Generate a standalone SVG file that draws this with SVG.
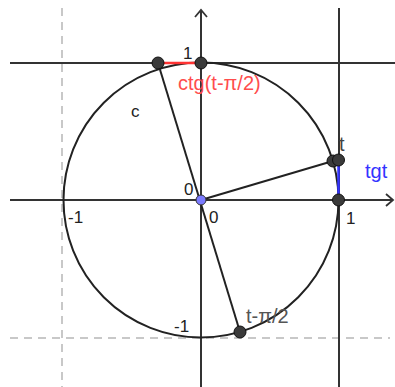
<svg xmlns="http://www.w3.org/2000/svg" width="395" height="387" viewBox="0 0 395 387">
<style>
.ax{stroke:#333;stroke-width:2;fill:none}
.dash{stroke:#c8c8c8;stroke-width:2;stroke-dasharray:8,6;fill:none}
.ln{stroke:#222;stroke-width:2;fill:none}
.pt{fill:#3a3a3a;stroke:#111;stroke-width:1}
text{font-family:"Liberation Sans",Arial,sans-serif;font-size:17px;fill:#222}
.big{font-size:20px}
</style>
<defs>
<marker id="arr" markerWidth="12" markerHeight="14" refX="9" refY="7" orient="auto" markerUnits="userSpaceOnUse">
<path d="M2,1 L9,7 L2,13" fill="none" stroke="#333" stroke-width="1.8"/>
</marker>
</defs>
<rect width="395" height="387" fill="#fff"/>
<g id="grid">
<line class="dash" x1="62" y1="8" x2="62" y2="387"/>
<line class="dash" x1="10" y1="338" x2="390" y2="338"/>
<line class="ax" x1="10" y1="63" x2="395" y2="63"/>
<line class="ax" x1="339" y1="8" x2="339" y2="387"/>
<line class="ax" x1="10" y1="200" x2="393" y2="200" marker-end="url(#arr)"/>
<line class="ax" x1="201" y1="387" x2="201" y2="10" marker-end="url(#arr)"/>
</g>
<g id="circle-c">
<circle cx="201" cy="200" r="137.5" class="ln"/>
<text x="131" y="117">c</text>
</g>
<g id="connectors">
<line class="ln" x1="201" y1="200" x2="333" y2="161"/>
<line class="ln" x1="158" y1="63" x2="240" y2="332"/>
<line x1="158" y1="63" x2="201" y2="63" stroke="#ff3333" stroke-width="2.5"/>
<line x1="338.5" y1="160" x2="338.5" y2="200" stroke="#3333ff" stroke-width="2.5"/>
</g>
<g id="pt-top">
<text x="183" y="59">1</text>
<circle class="pt" cx="201" cy="63" r="6"/>
</g>
<g id="pt-ctg">
<circle class="pt" cx="158" cy="63" r="6"/>
<text class="big" x="178" y="90" style="fill:#ff4d4d">ctg(t-π/2)</text>
</g>
<g id="pt-t">
<circle class="pt" cx="333" cy="161" r="6"/>
<circle class="pt" cx="338.5" cy="160" r="6"/>
<text class="big" x="339" y="151" style="fill:#444">t</text>
<text class="big" x="365" y="178" style="fill:#3333ff">tgt</text>
</g>
<g id="pt-one">
<circle class="pt" cx="338.5" cy="200" r="6"/>
<text x="346" y="224">1</text>
</g>
<g id="pt-origin">
<circle cx="201" cy="200" r="5" fill="#7b7bff" stroke="#333" stroke-width="1"/>
<text x="184" y="195">0</text>
<text x="209" y="223">0</text>
</g>
<g id="labels">
<text x="68" y="223">-1</text>
<text x="174" y="332">-1</text>
</g>
<g id="pt-bottom">
<text class="big" x="246" y="323" style="fill:#555">t-π/2</text>
<circle class="pt" cx="240" cy="332" r="6"/>
</g>
</svg>
